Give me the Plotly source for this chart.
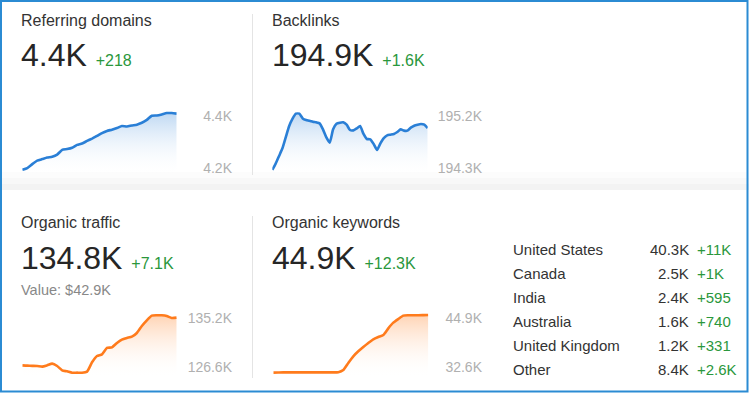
import plotly.graph_objects as go

W, H = 749, 393

# ---------------- data ----------------
referring_domains = [4194, 4201, 4216, 4229, 4235, 4241, 4244, 4252, 4270, 4273, 4278, 4289,
                     4294, 4304, 4313, 4323, 4334, 4342, 4347, 4353, 4361, 4359, 4363, 4366,
                     4373, 4384, 4400, 4401, 4405, 4410, 4410, 4408]
backlinks = [194272, 194380, 194511, 194642, 194835, 195023, 195149, 195234, 195234, 195154,
             195126, 195115, 195097, 195086, 195069, 194966, 194830, 194739, 194966, 195063,
             195080, 195086, 195046, 194955, 194949, 194984, 195023, 194887, 194801, 194796,
             194716, 194613, 194727, 194818, 194864, 194875, 194887, 194921, 194966, 194944,
             194944, 194995, 195029, 195046, 195058, 195046, 194989]
organic_traffic = [126895, 126836, 126806, 126777, 126659, 126895, 127189, 126777, 126011, 125834,
                   125599, 125599, 125599, 125775, 127425, 128544, 128838, 129957, 130075, 130841,
                   131430, 131724, 131960, 132608, 133845, 134846, 135671, 135730, 135730, 135612,
                   135259, 135317]
organic_keywords = [31168, 31210, 31252, 31252, 31252, 31252, 31252, 31252, 31252, 31252, 31252,
                    31252, 31252, 31294, 31842, 33611, 35296, 36560, 37655, 38666, 39593, 40183,
                    40688, 42373, 43805, 44732, 45575, 45659, 45659, 45659, 45701, 45743]

titles = ["Referring domains", "Backlinks", "Organic traffic", "Organic keywords"]
totals = ["4.4K", "194.9K", "134.8K", "44.9K"]
changes = ["+218", "+1.6K", "+7.1K", "+12.3K"]
traffic_value = "Value: $42.9K"

tick_vals = [[4200, 4400], [194300, 195200], [126600, 135200], [32600, 44900]]
tick_text = [["4.2K", "4.4K"], ["194.3K", "195.2K"], ["126.6K", "135.2K"], ["32.6K", "44.9K"]]
y_ranges = [[4170.7, 4440.7], [194168, 195383], [124657, 137019], [29821, 47502]]

countries = ["United States", "Canada", "India", "Australia", "United Kingdom", "Other"]
country_keywords = ["40.3K", "2.5K", "2.4K", "1.6K", "1.2K", "8.4K"]
country_changes = ["+11K", "+1K", "+595", "+740", "+331", "+2.6K"]

# ---------------- styles ----------------
FONT = "Liberation Sans, Arial, Helvetica, sans-serif"
BLUE = "#2a7fd6"
ORANGE = "#ff7b1c"
GREEN = "#2a973c"
DARK = "#262626"
TITLE = "#333333"
TICK = "#b0b0b0"
GREY = "#888888"

series = [referring_domains, backlinks, organic_traffic, organic_keywords]
colors = [BLUE, BLUE, ORANGE, ORANGE]
fills = ["rgba(42,127,214,0.30)", "rgba(42,127,214,0.30)",
         "rgba(255,123,28,0.33)", "rgba(255,123,28,0.33)"]

# panel geometry in pixels
x_dom_px = [(22.3, 176.7), (272.3, 427.7), (22.3, 176.7), (273.3, 428.3)]
y_dom_px = [(105, 176), (105, 176), (308, 378), (308, 378)]
label_px = [232, 482, 232, 482]
text_x = [19, 270, 19, 270]
title_y = [21, 21, 222, 222]
total_y = [55, 55, 258, 258]


def fx(x):
    return x / W


def fy(y):
    return 1 - y / H


fig = go.Figure()
layout = dict(
    width=W, height=H, margin=dict(l=0, r=0, t=0, b=0),
    paper_bgcolor="white", plot_bgcolor="rgba(0,0,0,0)",
    showlegend=False, font=dict(family=FONT),
)
annotations = []
shapes = []

for i, vals in enumerate(series):
    ax = "" if i == 0 else str(i + 1)
    n = len(vals)
    lo, hi = y_ranges[i]
    fig.add_trace(go.Scatter(
        x=list(range(n)), y=vals, mode="lines",
        line=dict(color=colors[i], width=2.6, shape="spline", smoothing=0.5),
        fill="tozeroy",
        fillgradient=dict(type="vertical", start=lo, stop=max(vals),
                          colorscale=[[0, "rgba(255,255,255,0)"], [1, fills[i]]]),
        xaxis="x" + ax, yaxis="y" + ax, hoverinfo="skip",
    ))
    layout["xaxis" + ax] = dict(
        domain=[fx(x_dom_px[i][0]), fx(x_dom_px[i][1])], range=[0, n - 1],
        visible=False, anchor="y" + ax, fixedrange=True,
    )
    layout["yaxis" + ax] = dict(
        domain=[fy(y_dom_px[i][1]), fy(y_dom_px[i][0])], range=[lo, hi],
        anchor="free", position=fx(label_px[i]), side="left",
        tickvals=tick_vals[i], ticktext=tick_text[i], ticks="",
        showgrid=False, zeroline=False, showline=False,
        tickfont=dict(size=14, color=TICK, family=FONT), fixedrange=True,
    )
    annotations.append(dict(
        text=titles[i], x=fx(text_x[i]), y=fy(title_y[i]), xref="paper", yref="paper",
        xanchor="left", yanchor="middle", showarrow=False,
        font=dict(size=16, color=TITLE, family=FONT),
    ))
    annotations.append(dict(
        text=f"{totals[i]} <span style='font-size:16px;color:{GREEN}'>{changes[i]}</span>",
        x=fx(text_x[i] - 0.5), y=fy(total_y[i]), xref="paper", yref="paper",
        xanchor="left", yanchor="middle", showarrow=False,
        font=dict(size=32, color=DARK, family=FONT),
    ))

annotations.append(dict(
    text=traffic_value, x=fx(19), y=fy(290), xref="paper", yref="paper",
    xanchor="left", yanchor="middle", showarrow=False,
    font=dict(size=14.5, color=GREY, family=FONT),
))

row_y = [249.7, 273.7, 297.7, 321.7, 345.7, 369.7]
for c, v, d, ry in zip(countries, country_keywords, country_changes, row_y):
    annotations.append(dict(text=c, x=fx(511), y=fy(ry), xref="paper", yref="paper",
                            xanchor="left", yanchor="middle", showarrow=False,
                            font=dict(size=15, color=TITLE, family=FONT)))
    annotations.append(dict(text=v, x=fx(690.5), y=fy(ry), xref="paper", yref="paper",
                            xanchor="right", yanchor="middle", showarrow=False,
                            font=dict(size=15, color=TITLE, family=FONT)))
    annotations.append(dict(text=d, x=fx(695), y=fy(ry), xref="paper", yref="paper",
                            xanchor="left", yanchor="middle", showarrow=False,
                            font=dict(size=15, color=GREEN, family=FONT)))

# separator band between the two rows of cards
for y0, y1, col in [(172, 178, "#fcfcfc"), (178, 184, "#f8f8f8"), (184, 190, "#f3f3f3")]:
    shapes.append(dict(type="rect", xref="paper", yref="paper", layer="below",
                       x0=0, x1=1, y0=fy(y1), y1=fy(y0), fillcolor=col, line=dict(width=0)))
# vertical dividers
for y0, y1 in [(14, 175), (216, 378)]:
    shapes.append(dict(type="line", xref="paper", yref="paper",
                       x0=fx(252.5), x1=fx(252.5), y0=fy(y1), y1=fy(y0),
                       line=dict(color="#e4e4e4", width=1)))
# outer blue frame
shapes.append(dict(type="rect", xref="paper", yref="paper",
                   x0=fx(1), x1=fx(747.5), y0=fy(391.5), y1=fy(1),
                   line=dict(color="#2b8bd3", width=2), fillcolor="rgba(0,0,0,0)"))

layout["annotations"] = annotations
layout["shapes"] = shapes
fig.update_layout(**layout)
fig.write_html(
    "out.html",
    config={"displayModeBar": False},
    post_script="document.body.style.margin='0';document.body.style.overflow='hidden';",
)
